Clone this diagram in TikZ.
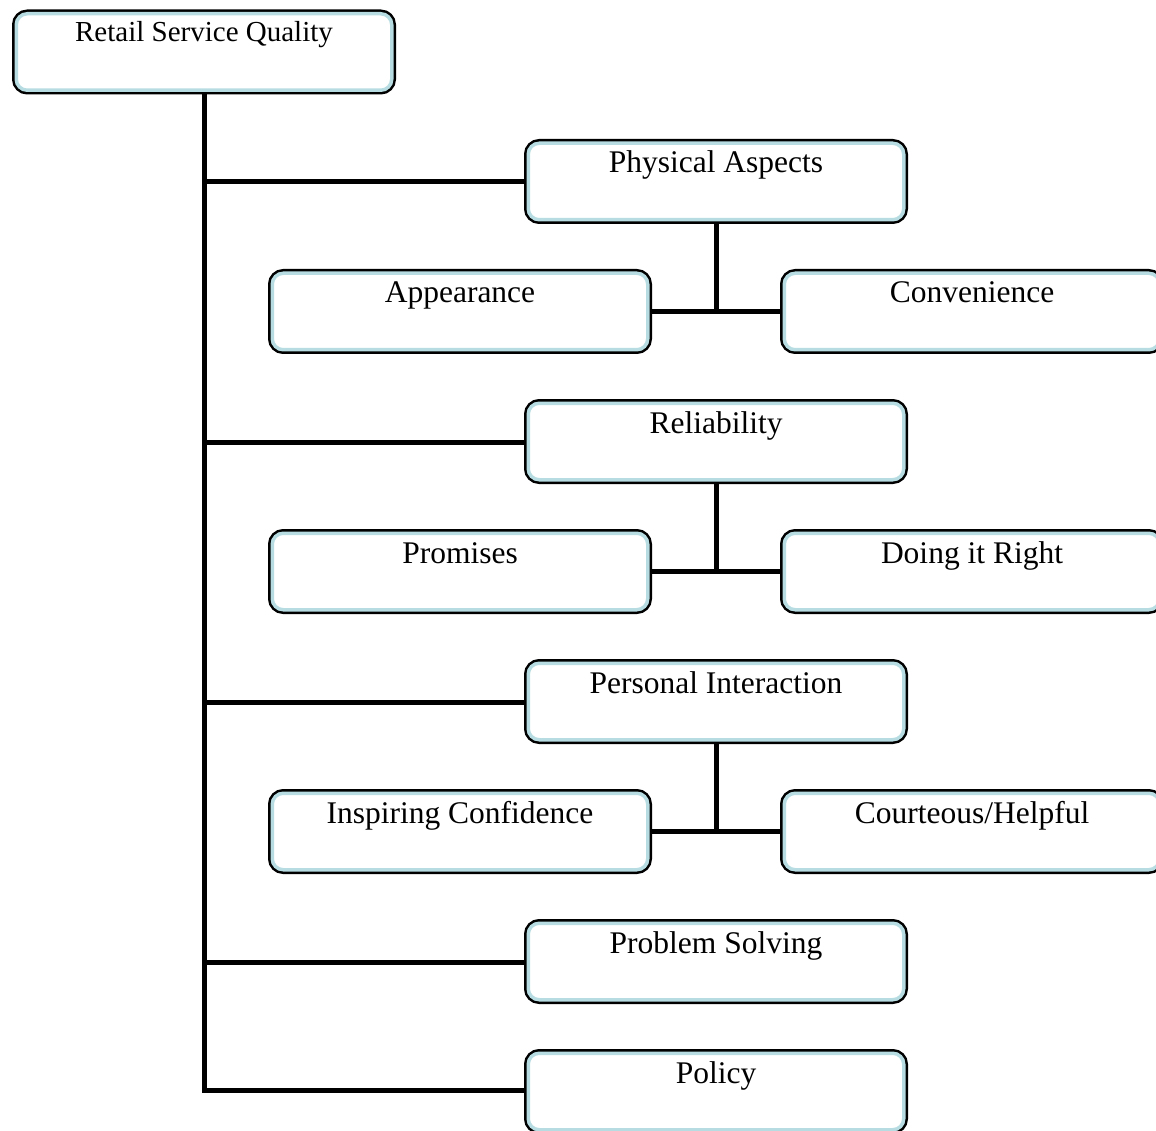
\documentclass[tikz,border=0pt]{standalone}
\usepackage{fontspec}
\setmainfont{Liberation Serif}
\usetikzlibrary{calc}
\definecolor{boxblue}{HTML}{B7DDE2}
\tikzset{
  box/.style={rectangle, rounded corners=11pt, minimum width=375.5pt, minimum height=76.5pt,
    inner sep=0pt, outer sep=4.25pt,
    preaction={draw=black, line width=8.5pt, rounded corners=11pt},
    fill=white, draw=boxblue, line width=3.5pt},
  lab/.style={anchor=base, inner sep=0pt, font=\fontsize{31.5}{36}\selectfont},
  conn/.style={draw=black, line width=5pt}
}
\begin{document}
\begin{tikzpicture}[x=1pt,y=-1pt]
\useasboundingbox (0,0) rectangle (1156,1131);
\node[box] (root) at (204,52) {};
\node[box] (pa) at (716,181.5) {};
\node[box] (app) at (460,311.5) {};
\node[box] (con) at (972,311.5) {};
\node[box] (rel) at (716,441.5) {};
\node[box] (pro) at (460,571.5) {};
\node[box] (dir) at (972,571.5) {};
\node[box] (pi) at (716,701.5) {};
\node[box] (ic) at (460,831.5) {};
\node[box] (ch) at (972,831.5) {};
\node[box] (ps) at (716,961.5) {};
\node[box] (pol) at (716,1091.5) {};
% labels
\node[lab, font=\fontsize{29}{34}\selectfont] at ($(root.north)+(0,32)$) {Retail Service Quality};
\node[lab] at ($(pa.north)+(0,34)$) {Physical Aspects};
\node[lab] at ($(app.north)+(0,34)$) {Appearance};
\node[lab] at ($(con.north)+(0,34)$) {Convenience};
\node[lab] at ($(rel.north)+(0,34)$) {Reliability};
\node[lab] at ($(pro.north)+(0,34)$) {Promises};
\node[lab] at ($(dir.north)+(0,34)$) {Doing it Right};
\node[lab] at ($(pi.north)+(0,34)$) {Personal Interaction};
\node[lab] at ($(ic.north)+(0,34)$) {Inspiring Confidence};
\node[lab] at ($(ch.north)+(0,34)$) {Courteous/Helpful};
\node[lab] at ($(ps.north)+(0,34)$) {Problem Solving};
\node[lab] at ($(pol.north)+(0,34)$) {Policy};
% trunk
\coordinate (tend) at (204,1090);
\draw[conn] (root.south) -- (tend) -- (tend -| pol.west);
\foreach \n in {pa,rel,pi,ps}{
  \draw[conn] ($(\n.west)+(0,0.5)$) -- ($(\n.west -| root.south)+(0,0.5)$);
}
% sub connectors
\foreach \p/\l/\r in {pa/app/con, rel/pro/dir, pi/ic/ch}{
  \draw[conn] (\p.south) -- (\p.south |- \l.east);
  \draw[conn] (\l.east) -- (\r.west);
}
\end{tikzpicture}
\end{document}
